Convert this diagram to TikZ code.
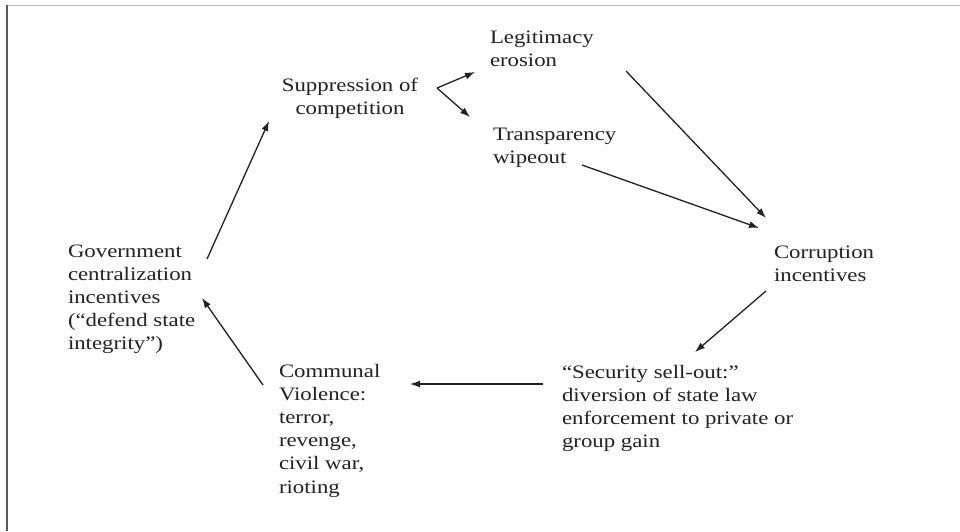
\documentclass[tikz,border=0pt]{standalone}
\usepackage{fontspec}
\setmainfont{Liberation Serif}[FakeStretch=1.2]
\usetikzlibrary{arrows.meta}
\definecolor{ink}{HTML}{222222}
\tikzset{
  lbl/.style={inner sep=0pt, outer sep=0pt, text=ink, align=left, anchor=north west,
    font=\fontsize{19}{23.2}\selectfont},
  arr/.style={draw=ink, line width=1.3pt, -{Latex[length=10pt,width=7pt]}},
}
\newcommand{\fl}{\rule{0pt}{15pt}}
\begin{document}
\begin{tikzpicture}[x=1pt,y=-1pt]
\useasboundingbox (0,0) rectangle (960,531);
\fill[white] (0,0) rectangle (960,531);
\draw[gray!55, line width=1.2pt] (6,5.5) -- (960,5.5);
\draw[black!65, line width=1.8pt] (6.8,5) -- (6.8,531);

\node[lbl] (gov) at (68,242) {\fl Government\\centralization\\incentives\\(“defend state\\integrity”)};
\node[lbl, align=center, anchor=north] (supp) at (350,76) {\fl Suppression of\\competition};
\node[lbl] (legit) at (490,28) {\fl Legitimacy\\erosion};
\node[lbl] (transp) at (493,125) {\fl Transparency\\wipeout};
\node[lbl] (corr) at (774,243) {\fl Corruption\\incentives};
\node[lbl] (sec) at (562,363) {\fl “Security sell-out:”\\diversion of state law\\enforcement to private or\\group gain};
\node[lbl] (comm) at (279,362) {\fl Communal\\Violence:\\terror,\\revenge,\\civil war,\\rioting};

\draw[arr] ([shift={(139,17)}]gov.north west) -- ([shift={(-81,45)}]supp.north);
\draw[arr] ([shift={(87,12)}]supp.north) -- ([shift={(-15,44)}]legit.north west);
\draw[arr] ([shift={(87,12)}]supp.north) -- ([shift={(-23,-8)}]transp.north west);
\draw[arr] ([shift={(136,43)}]legit.north west) -- ([shift={(-8,-25)}]corr.north west);
\draw[arr] ([shift={(89,40)}]transp.north west) -- ([shift={(-15,-15)}]corr.north west);
\draw[arr] ([shift={(-8,48)}]corr.north west) -- ([shift={(133,-11)}]sec.north west);
\draw[arr] ([shift={(-19,21)}]sec.north west) -- ([shift={(131,22)}]comm.north west);
\draw[arr] ([shift={(-16,23)}]comm.north west) -- ([shift={(134,56)}]gov.north west);
\end{tikzpicture}
\end{document}
